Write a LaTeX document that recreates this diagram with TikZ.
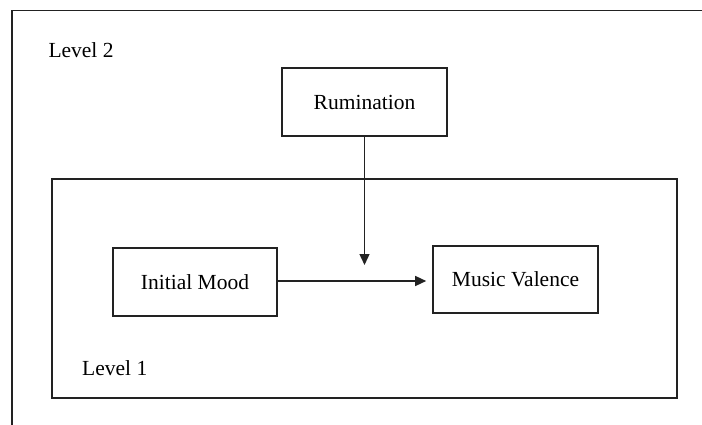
\documentclass[tikz,border=0pt]{standalone}
\usepackage{fontspec}
\setmainfont{Liberation Serif}
\usetikzlibrary{arrows.meta}
\definecolor{linec}{HTML}{222222}
\tikzset{
  box/.style={draw=linec, line width=1.6pt, inner sep=0pt, align=center},
  lbl/.style={inner sep=0pt, anchor=base west},
  conn/.style={draw=linec, line width=1.4pt, -{Triangle[length=11pt,width=10pt]}}
}
\begin{document}
\begin{tikzpicture}[x=1pt,y=-1pt,font=\fontsize{21.5}{26}\selectfont]
\useasboundingbox (0,0) rectangle (702,425);
% outer frame (top and left only)
\draw[linec, line width=1.6pt] (702,10.5) -- (12,10.5) -- (12,425);
% level 1 frame
\node[box, minimum width=625pt, minimum height=219pt] (lvl1) at (364.5,288.5) {};
% boxes
\node[box, minimum width=165pt, minimum height=68pt] (rum) at (364.5,102) {Rumination};
\node[box, minimum width=164pt, minimum height=68pt] (init) at (195,282) {Initial Mood};
\node[box, minimum width=165pt, minimum height=67pt] (music) at (515.5,279.5) {Music Valence};
% labels
\node[lbl] (l2) at (48.3,57.3) {Level 2};
\node[lbl] (l1) at (82,375) {Level 1};
% connectors
\coordinate (tip) at (364.5,265);
\draw[conn] (rum.south) -- (tip);
\draw[conn, shorten >=6pt] (init.east |- 0,281) -- (music.west |- 0,281);
\end{tikzpicture}
\end{document}
